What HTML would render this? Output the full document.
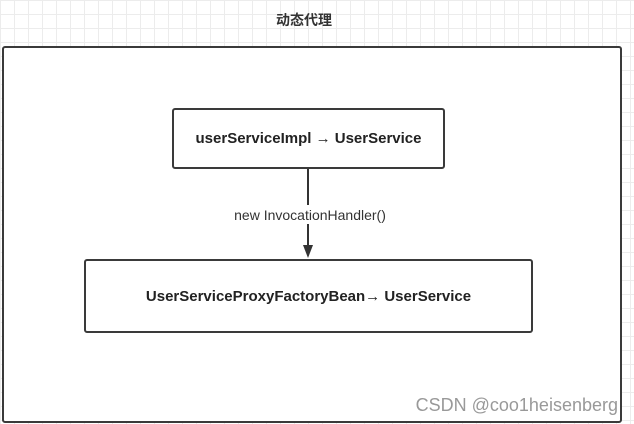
<!DOCTYPE html>
<html><head><meta charset="utf-8"><style>
html,body{margin:0;padding:0}
body{width:634px;height:424px;overflow:hidden;position:relative;font-family:"Liberation Sans","Noto Sans CJK SC",sans-serif;
background-color:#fff;
background-image:linear-gradient(#ececec 1px,transparent 1px),linear-gradient(90deg,#ececec 1px,transparent 1px);
background-size:14px 14px;}
.b{position:absolute;border:2px solid #3a3a3a;border-radius:3px;background:#fff;box-sizing:border-box;display:flex;align-items:center;justify-content:center;font-weight:bold;font-size:15px;color:#222}
</style></head><body>
<div style="position:absolute;left:0;top:10px;width:608px;text-align:center;font-size:14px;font-weight:bold;color:#333">动态代理</div>
<div class="b" style="left:2px;top:46px;width:620px;height:377px"></div>
<div class="b" style="left:172px;top:108px;width:273px;height:61px">userServiceImpl → UserService</div>
<div class="b" style="left:84px;top:259px;width:449px;height:74px">UserServiceProxyFactoryBean→ UserService</div>
<svg style="position:absolute;left:0;top:0" width="634" height="424">
<line x1="308" y1="169" x2="308" y2="248" stroke="#333" stroke-width="2"/>
<polygon points="303,245 313,245 308,258" fill="#333"/>
<rect x="220" y="205" width="180" height="19" fill="#fff"/>
<text x="310" y="220" text-anchor="middle" font-family="Liberation Sans,sans-serif" font-size="14" fill="#333">new InvocationHandler()</text>
<text x="618" y="411" text-anchor="end" font-family="Liberation Sans,sans-serif" font-size="18" fill="#999">CSDN @coo1heisenberg</text>
</svg>
</body></html>
